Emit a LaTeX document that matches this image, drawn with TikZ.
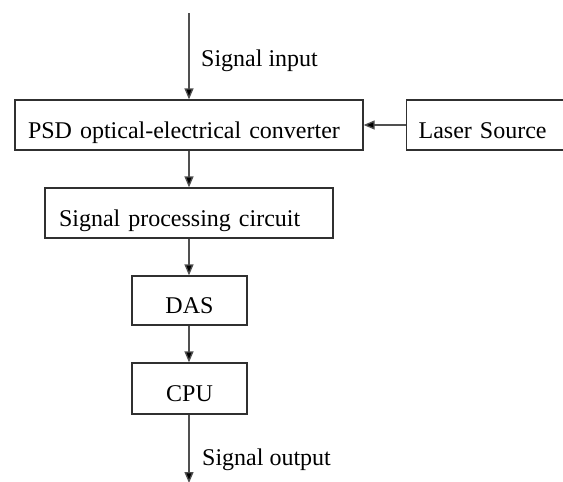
\documentclass[tikz,border=0pt]{standalone}
\usepackage{fontspec}
\setmainfont{Liberation Serif}
\usepackage{xcolor}
\definecolor{linegray}{HTML}{505050}
\definecolor{boxgray}{HTML}{303030}
\usepackage{tikz}
\usetikzlibrary{arrows.meta,positioning}

\begin{document}
\begin{tikzpicture}[x=1pt, y=-1pt, font=\fontsize{24}{28}\selectfont,
  blk/.style={rectangle, draw=boxgray, line width=1.3pt, inner sep=0pt,
    text height=28pt, text depth=2pt},
  flow/.style={draw=linegray, line width=1.3pt,
    -{Triangle[length=11pt,width=9pt,fill=black]}}]
  \useasboundingbox (0,0) rectangle (563,482);
  % blocks
  \node[blk, minimum width=348pt, minimum height=50pt,
    text width=322pt, align=left] (psd) at (189,125) {PSD optical-electrical converter};
  \node[blk, anchor=west, minimum width=180pt, minimum height=50pt,
    text width=156pt, align=left] (laser) at (406,125) {Laser Source};
  \node[blk, minimum width=288pt, minimum height=50pt,
    text width=260pt, align=left] (spc) at (189,213) {Signal processing circuit};
  \node[blk, minimum width=115pt, minimum height=49pt] (das) at (189.5,300.5) {DAS};
  \node[blk, minimum width=115pt, minimum height=51pt] (cpu) at (189.5,388.5) {CPU};
  % free ends and labels
  \coordinate (sigin) at (189,13);
  \coordinate (sigout) at (189,483);
  \node[anchor=base west, inner sep=0pt] (inlbl) at (201,66) {Signal input};
  \node[anchor=base west, inner sep=0pt] (outlbl) at (202,465) {Signal output};
  % connectors
  \draw[flow] (sigin) -- (psd.north);
  \draw[flow] (laser.west) -- (psd.east);
  \draw[flow] (psd.south -| spc.north) -- (spc.north);
  \draw[flow] (spc.south) -- (spc.south |- das.north);
  \draw[flow] (das.south -| spc.south) -- (spc.south |- cpu.north);
  \draw[flow] (cpu.south -| sigout) -- (sigout);
\end{tikzpicture}
\end{document}
